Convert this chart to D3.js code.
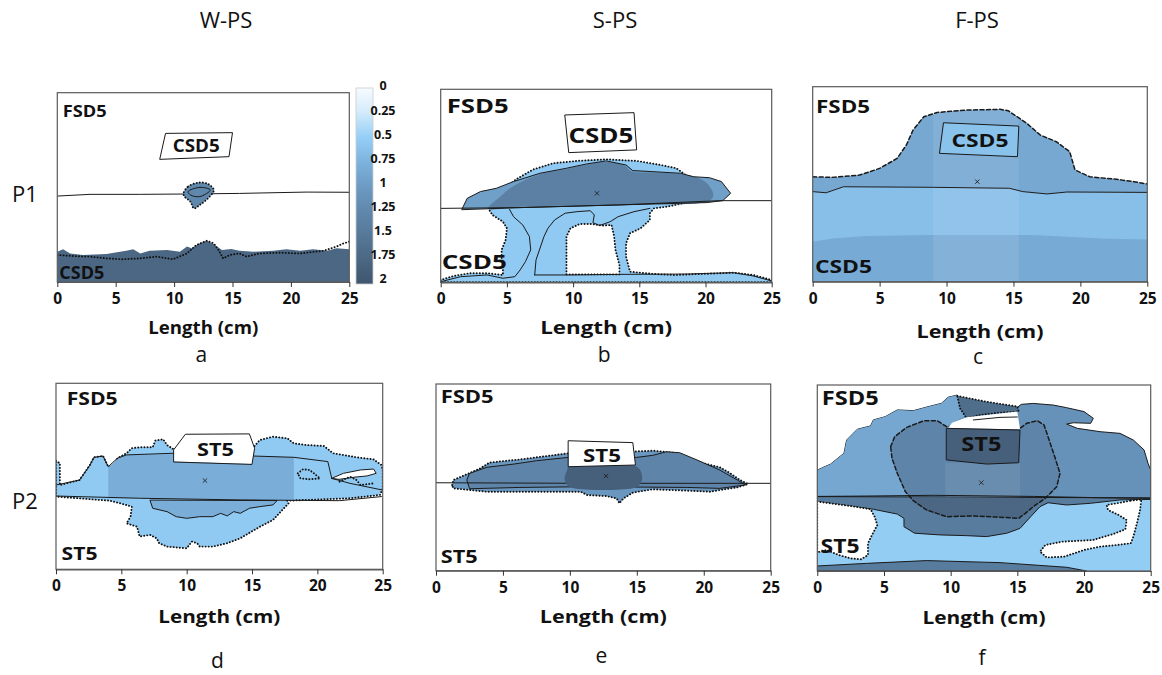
<!DOCTYPE html>
<html><head><meta charset="utf-8">
<script src="https://cdn.jsdelivr.net/npm/d3@7"></script>
<style>body{margin:0;background:#fff} text{font-family:"Open Sans",sans-serif}</style>
</head><body><svg id="c" width="1162" height="675"></svg>
<script>
// ---------------- DATA ----------------
const xTicks = [0, 5, 10, 15, 20, 25];
const cbTicks = [0, 0.25, 0.5, 0.75, 1, 1.25, 1.5, 1.75, 2];
const cbColors = ["#f7fbff","#d3ebfb","#95cff6","#7db3de","#6d9bc3","#6088ad","#567999","#4b6783","#3f566e"];
const columnTitles = ["W-PS", "S-PS", "F-PS"];
const rowLabels = ["P1", "P2"];
const panelLetters = ["a", "b", "c", "d", "e", "f"];
const xLabel = "Length (cm)";

// Panel a (W-PS, P1): x in cm, y in % of depth
const aInterface = [[0,54.6],[2.8,53.7],[7.1,53.7],[11.4,53.5],[15.6,53.2],[21.3,52.5],[25,52.6]];
const aBox = [[9.3,21.5],[15.0,21.1],[14.7,33.8],[8.8,35.2]];
const aBlob = [[10.8,53.2],[11.2,49.6],[12.1,47.5],[12.9,48.2],[13.4,51.4],[12.9,55.8],[12.2,59.3],[11.7,61.1],[11.4,57.6],[10.9,54.9]];
const aBlobCore = [[11.2,52.3],[12.2,50],[13.1,51.4],[12.2,54.9],[11.4,54]];
const aBottom = [[0,84],[0.5,82.7],[1.1,84.9],[2.2,85.7],[4.2,85.2],[5.9,83.5],[6.5,82.7],[7.1,84.9],[7.9,83.5],[9.4,83.1],[10.5,84],[11.1,81.3],[11.5,82.2],[12.2,79.5],[12.8,78.2],[13.4,80],[14.1,83.1],[14.9,82.6],[15.6,83.5],[16.8,84],[18.5,83.5],[19.6,82.7],[20.8,83.5],[21.9,82.7],[23.1,83.5],[23.9,82.2],[25,82.7],[25,100],[0,100]];
const aBottomDots = [[0,85.7],[1.4,86.3],[2.8,86.6],[4.2,87.5],[5.6,88],[7.1,87.5],[8.5,86.6],[9.9,88],[11.1,84.9],[11.9,80.5],[12.8,78.2],[13.4,79.6],[13.8,83.1],[14.2,87.5],[14.8,85.7],[15.6,84.9],[16.2,86.6],[17.3,84.9],[19.1,84.5],[20.8,84.9],[22.8,83.5],[23.9,81.3],[24.5,79.6],[25,78.7]];

// Panel b (S-PS, P1)
const bInterface = [[0,61.7],[6,61.3],[13.5,59.9],[21.1,57.7],[25,57.7]];
const bBox = [[9.4,13.3],[14.6,12.1],[14.8,31.4],[9.7,32.8]];
const bLight = [[4.7,52.2],[5.7,46.6],[7.0,41.5],[8.5,38.3],[10.5,37],[12.5,36.3],[14.8,37.1],[16.6,39.2],[17.8,40.9],[18.5,44.4],[18.3,59.1],[17.1,60.8],[16.1,61.7],[15.8,64.2],[15.8,67.7],[15.1,72],[14.3,74.6],[14.0,79.8],[14.0,86.7],[14.3,94.5],[16.1,95.7],[17.6,96.2],[21.1,95.3],[22.1,95],[23.6,96.2],[25,98.8],[25,100],[0,100],[0,98.8],[1.0,96.7],[2.2,95.3],[3.5,95.3],[4.7,96.2],[4.7,91.9],[4.6,88.4],[4.6,83.2],[4.9,78.1],[5.0,72],[4.7,68.6],[3.9,65.1],[3.6,61.7]];
const bHole = [[9.5,95.9],[9.5,76.3],[9.8,72],[10.5,69.8],[11.4,69.8],[12.2,70.6],[12.9,70.3],[13.1,76.3],[13.2,83.2],[13.5,91],[13.5,95.9]];
const bLine1 = [[5.2,62.2],[5.5,66],[6.2,70.3],[6.7,76.3],[6.8,83.2],[6.4,89.3],[6.0,93.6],[5.6,97.1],[4.7,97.9],[3.5,96.2],[1.5,97.1],[0,99.7]];
const bLine2 = [[7.1,96.2],[7.2,88.4],[7.8,76.3],[8.1,72],[8.6,67.7],[9.4,64.2],[10.3,63.4],[11.3,62.9],[11.6,65.1],[11.5,69.1],[12.0,70.6],[12.8,68.6],[13.4,66],[14.6,63.4],[15.8,61.7]];
const bLine3 = [[7.1,96.2],[9.5,96.2],[13.5,95.9],[18.6,95.7],[22.1,95],[23.6,96.7],[25,99.3]];
const bDome = [[1.6,62.2],[2.0,56.5],[3.0,53],[4.2,51.3],[5.5,47.8],[7.5,43.5],[9.5,40.9],[11.0,38.7],[12.5,37.1],[14.0,39.2],[14.5,42.1],[16.1,42.7],[18.1,43.5],[19.1,45.3],[20.3,45.8],[21.2,47.8],[21.9,53.9],[21.3,57.7],[20.1,58.7],[13.5,59.9],[6.0,61.3]];
const bDark = [[3.6,61.7],[4.5,55.6],[5.5,50.1],[7.5,44],[9.5,41.3],[11.0,39.1],[12.5,37.6],[13.9,39.6],[14.4,42.5],[16.1,43.1],[18.1,43.9],[19.3,45.6],[20.1,48.7],[20.6,54.7],[20.3,57.7],[13.5,59.6],[6.0,60.9]];

// Panel c (F-PS, P1)
const cInterface = [[0,53.8],[1.0,54.4],[2.3,51.3],[9.0,51.6],[14.7,52.1],[15.7,53.8],[17.5,55],[19,54],[25,54.2]];
const cBottom = [[0,79.5],[1.5,77.8],[4.0,76.6],[9.0,76.1],[16.5,76.1],[19,76.9],[21.5,77.8],[25,78.3],[25,100],[0,100]];
const cTop = [[0,46.2],[1.5,46.5],[3.5,45.3],[5.0,41.9],[6.3,36.8],[7.0,29.9],[7.5,22.2],[8.3,15.4],[9.3,13.2],[11.5,12],[14.0,11.6],[14.6,12.3],[16.0,18.8],[17.0,24.8],[18.2,28.2],[19.2,33.3],[19.6,42.7],[20.7,46.2],[22.7,47.5],[24.0,48.7],[25,49.9]];
const cStrip = [[9.0,13.2],[11.5,12],[14.0,11.6],[14.6,12.3],[15.4,16],[15.4,100],[9.0,100]];
const cBox = [[9.8,18.5],[15.4,20.2],[15.3,35.9],[9.5,34.2]];

// Panel d (W-PS, P2)
const dLight = [[0,41.6],[0.3,43],[0.3,54.7],[1.8,52],[2.6,43.9],[2.9,39.8],[3.6,39.1],[4.0,44.8],[4.4,44.8],[4.7,40.3],[5.4,37.6],[5.8,34.9],[6.4,34.4],[7.4,34.4],[7.6,30.8],[8.2,30.1],[8.5,33.2],[9.0,35.5],[9.5,34],[15.1,34],[15.1,34.4],[15.6,30.5],[16.6,28.7],[17.7,29.6],[18.2,32.3],[19.2,33.2],[20.5,33.7],[21.2,37.6],[23.0,39.8],[24.3,40.9],[24.9,43.9],[25,46.6],[25,56.5],[24.8,60],[22.5,61.8],[17.7,63.1],[17.8,64.5],[16.6,73.5],[15.6,77.1],[14.1,83.3],[13.1,86],[12.0,87.8],[11.0,87.8],[10.8,86],[10.4,85.1],[10.0,88.7],[8.5,87.8],[7.9,86],[7.7,83.3],[7.2,81.5],[6.4,82.4],[6.2,77.1],[5.4,75.3],[5.7,71.7],[5.8,66.3],[4.9,64.5],[4.1,63.1],[1.7,61.8],[0,60.9]];
const dMid = [[4.0,45.2],[4.7,40.9],[5.4,38.5],[9.0,38],[15.1,39.1],[18.2,39.8],[18.2,62.7],[14.1,62.7],[6.4,61.8],[4.0,61.8]];
const dMidLow = [[7.2,63.0],[7.4,67.2],[8.5,69],[9.2,71.7],[10,72.6],[11,71.7],[12,71.7],[12.6,69.9],[13.1,71.3],[13.6,69],[14.1,69.9],[14.8,67.2],[15.6,66.3],[16.6,65.4],[16.9,63.2]];
const dNotch = [[21.1,51.1],[22.0,48.4],[23.3,46.6],[24.3,46.1],[24.5,48.4],[23.8,49.8],[22.8,50.5],[21.7,51.6]];
const dIsland = [[18.5,48.4],[18.9,46.2],[19.4,46.6],[19.9,49.3],[20.2,51.1],[19.4,51.6],[18.7,51.1]];
const dDots = [[21.7,52.9],[22.5,50.2],[23.0,52],[23.3,54.7],[24.3,53.8]];
const dUpperLine = [[0,54.7],[1.8,52],[2.6,43.9],[2.9,39.8],[3.6,39.1],[4,44.8],[4.7,40.3],[5.4,38.5],[9,37.6],[15.1,39.1],[18.2,39.8],[20.8,42.1],[21.1,51.1],[22.5,53.8],[25,57.4]];
const dInterface = [[0,60.6],[6.4,61.8],[14.1,62.7],[21.7,63.1],[24.9,60.9]];
const dBox = [[9.0,42.1],[9.0,35.8],[9.9,27.4],[14.8,27.2],[15.2,34.9],[15.0,43.4]];

// Panel e (S-PS, P2)
const eInterface = [[0,52.9],[11.3,53.2],[25,53.2]];
const eOuter = [[1.2,54.1],[1.3,51.4],[2.0,49.3],[3.3,45.2],[4.0,42.1],[5.3,41.1],[6.3,40.4],[7.5,39.3],[9.9,37.1],[15.0,36.1],[16.2,35.7],[17.7,36.8],[18.7,39.3],[20.0,42.5],[21.2,44.6],[22.0,47.9],[22.7,51.4],[23.3,53.6],[22.5,55.4],[21.2,56.8],[20.5,57.7],[18.7,57.1],[16.2,56.4],[14.7,58.2],[14.0,61.3],[13.7,63.9],[13.5,61.3],[12.7,60],[11.3,59.5],[10.8,57.7],[8.8,57.7],[3.8,57.7],[1.3,55.9]];
const eInner = [[2.5,55.9],[2.3,51.4],[2.5,47.9],[3.8,44.6],[5.8,42.9],[7.5,41.1],[9.9,39.3],[15.0,39.3],[16.2,38.2],[17.2,36.3],[18.2,36.8],[19.5,40.7],[21.2,46.1],[22.5,51.4],[23.1,54.1],[21.2,55.9],[18.7,55.4],[11.3,55],[6.3,55.4]];
const eCore = [[9.8,46.1],[9.9,44.3],[15,44.3],[15.3,46.9],[15.4,50.5],[15.2,54.1],[14.7,55.9],[10.3,55.9],[9.8,54.1],[9.6,50.5]];
const eBox = [[9.9,30.4],[14.7,31.4],[14.9,43.4],[9.9,44.3]];

// Panel f (F-PS, P2)
const fLight = [[0,60.2],[25,60.9],[25,100],[0,100]];
const fUpper = [[0,60.9],[0,45.7],[1.0,42.5],[2.0,36.7],[2.2,29.6],[3.0,23.8],[4.0,22],[4.2,18.8],[5.1,17],[6.0,13.4],[7.2,13.8],[8.5,11.3],[9.3,9.9],[9.8,6.6],[10.5,5.4],[10.7,9.9],[11.3,12],[11.7,14.9],[13.7,13.4],[15,12],[15.3,10.4],[16.2,9.9],[17.7,10.8],[18.7,12.2],[20,14.3],[20.7,17.9],[20.5,20.6],[19.2,20.3],[18.7,21],[19.5,23.3],[21.2,25.1],[22.7,26],[23.7,29.6],[24.5,34.9],[24.8,42.1],[25,45.7],[25,60.9]];
const fLeft = [[0,60.2],[0,45.7],[1.0,42.5],[2.0,36.7],[2.2,29.6],[3.0,23.8],[4.0,22],[4.2,18.8],[5.1,17],[6.0,13.4],[7.2,13.8],[8.5,11.3],[9.3,9.9],[9.8,6.6],[10.5,5.4],[10.7,9.9],[11.3,12],[11.7,14.9],[10.5,18.8],[9.7,22.4],[9.0,19.2],[8.0,19.2],[6.7,22.8],[5.8,27.8],[5.5,33.2],[5.6,39.4],[6.0,47.5],[6.6,57.3],[7.0,60.2]];
const fLoop = [[5.5,33.2],[5.8,27.8],[6.7,22.8],[8.0,19.2],[9.0,19.2],[9.7,22.4],[15.2,23.3],[15.7,20.6],[16.5,19.2],[17,21.5],[17.3,27.8],[17.8,38.5],[18.2,47.5],[17.95,54.7],[17.1,60.9],[16.2,65.4],[15.6,69],[15.1,71.7],[13.7,71.1],[11.7,70.4],[9.7,70.8],[8.2,67.2],[7.2,62.2],[6.6,57.3],[6.0,47.5],[5.6,39.4]];
const fLower = [[0,60.2],[0,62.7],[2.5,65.1],[4.2,66.8],[6.0,69.4],[6.5,71.7],[6.5,76.2],[7.3,79.7],[9.2,80.6],[11.2,81],[12.7,81.5],[14.2,79.7],[15.2,77.1],[16,70.8],[16.7,65.4],[17.3,63.3],[18.7,64.5],[20.5,63.6],[22.7,61.8],[25,61.5],[25,60.9]];
const fLoopLower = [[7.0,60.2],[17.1,60.9],[16.2,65.4],[15.6,69],[15.1,71.7],[13.7,71.1],[11.7,70.4],[9.7,70.8],[8.2,67.2],[7.2,62.2]];
const fStrip = [[9.6,42],[15.2,42],[15.2,60.6],[9.6,60.2]];
const fPatch = [[10.5,5.9],[12.7,9],[15,11.6],[15.1,14.3],[13.7,14.9],[12.2,16.1],[11.2,17.9],[10.7,12.5]];
const fCrescent = [[9.8,23.3],[10.1,20.3],[11.2,17.4],[12.7,16.1],[15,14.3],[15.2,23.8]];
const fCrescentLine = [[11.7,18.8],[13.7,17.4],[15,17.2]];
const fBox = [[9.7,23.3],[15.2,24.2],[15.1,41.8],[12.7,42.5],[9.7,40.3]];
const fHoleL = [[0,62.7],[2.5,65.1],[4,66.8],[4.3,70.8],[4.5,75.3],[4.1,80.6],[3.8,85.1],[3.8,91.4],[3.3,93.7],[2.5,93.2],[1.6,91.4],[0.7,88.7],[0,90]];
const fHoleR = [[23.5,62.2],[24.3,61.5],[24.2,67.2],[24,73.5],[23.7,81.5],[23.5,85.1],[22.5,86],[21.2,86.9],[20,88.7],[18.5,92.3],[17.2,92.7],[16.7,89.6],[17.1,86],[18.4,84.2],[20.7,83.3],[22.2,80.1],[23.1,77.6],[23.2,72.6],[22.6,69.9],[21.8,67.2],[21.7,64.5],[22.7,63.3]];
const fBand = [[0,97.3],[3.7,95.9],[8.2,94.4],[13.7,95.5],[18.7,98],[20.2,100],[0,100]];
const fInterface = [[0,59.9],[3.7,59.7],[8.7,59.3],[16.2,59.9],[21.2,60.6],[25,60.9]];

// injection points (x marks)
const centers = {b:[11.8,53.9], c:[12.3,48.7], d:[11.4,52.3], e:[12.7,49.3], f:[12.3,52.5]};

// ---------------- DRAW ----------------
const svg = d3.select("#c");
const color = d3.scaleLinear().domain(cbTicks).range(cbColors);

const panels = [
 {id:"a", frame:[57.3,349.3,92.7,282], lenY:46, lenW:110, letterY:362,
  layers:[
   {pts:aBottom, v:1.75},
   {pts:aBottomDots, stroke:"dotted", open:true},
   {pts:aInterface, stroke:"solid", open:true},
   {pts:aBlob, v:1.25, stroke:"dotted", smooth:true},
   {pts:aBlobCore, stroke:"solid", smooth:true},
   {pts:aBox, white:true, stroke:"solid"}],
  texts:[{t:"FSD5",x:0.46,y:12.7,w:44,s:16},{t:"CSD5",x:11.9,y:31.2,w:47,s:17,mid:true},{t:"CSD5",x:0.17,y:98.4,w:45,s:17}]},
 {id:"b", frame:[440.7,771.7,89.3,282.3], lenY:46, lenW:132, letterY:362,
  layers:[
   {pts:bLight, v:0.55, stroke:"dotted"},
   {pts:bHole, white:true, stroke:"dotted"},
   {pts:bLine1, stroke:"solid", open:true},
   {pts:bLine2, stroke:"solid", open:true},
   {pts:bLine3, stroke:"solid", open:true},
   {pts:bDome, v:0.95},
   {pts:bDark, v:1.38, smooth:true},
   {pts:bDome, stroke:"solid"},
   {pts:bInterface, stroke:"solid", open:true},
   {pts:bBox, white:true, stroke:"solid"}],
  texts:[{t:"FSD5",x:0.45,y:12.4,w:62,s:19},{t:"CSD5",x:12.1,y:28,w:65,s:22,mid:true},{t:"CSD5",x:0.08,y:93.3,w:65,s:19}]},
 {id:"c", frame:[812.7,1147.3,86.7,281.7], lenY:50, lenW:127, letterY:364,
  layers:[
   {pts:cTop.concat(cInterface.slice().reverse()), v:0.86},
   {pts:cInterface.concat([[25,100],[0,100]]), v:0.64},
   {pts:cBottom, v:0.84},
   {pts:cStrip, overlay:0.09},
   {pts:cTop, stroke:"dashed", open:true},
   {pts:cInterface, stroke:"solid", open:true},
   {pts:cBox, v:0.62, stroke:"solid"}],
  texts:[{t:"FSD5",x:0.25,y:13.7,w:54,s:18},{t:"CSD5",x:12.5,y:31.1,w:57,s:18,mid:true},{t:"CSD5",x:0.17,y:95.4,w:57,s:18}]},
 {id:"d", frame:[56,382.7,383.3,569.3], lenY:48, lenW:122, letterY:668,
  layers:[
   {pts:dLight, v:0.55, stroke:"dotted"},
   {pts:dMid, v:0.8},
   {pts:dMidLow, v:0.8, stroke:"solid"},
   {pts:dNotch, white:true, stroke:"solid"},
   {pts:dIsland, stroke:"dotted"},
   {pts:dDots, stroke:"dotted", open:true},
   {pts:dUpperLine, stroke:"solid", open:true},
   {pts:dInterface, stroke:"solid", open:true},
   {pts:dBox, white:true, stroke:"solid"}],
  texts:[{t:"FSD5",x:0.82,y:11.6,w:51,s:18},{t:"ST5",x:12.2,y:39.1,w:37,s:18,mid:true},{t:"ST5",x:0.43,y:95,w:36,s:18}]},
 {id:"e", frame:[436,770.7,384,570.7], lenY:46, lenW:127, letterY:663,
  layers:[
   {pts:eOuter, v:1.05, stroke:"dotted"},
   {pts:eInner, v:1.3, stroke:"solid"},
   {pts:eInterface, stroke:"solid", open:true},
   {pts:eCore, v:1.85, smooth:true},
   {pts:eBox, white:true, stroke:"solid"}],
  texts:[{t:"FSD5",x:0.35,y:10.4,w:53,s:18},{t:"ST5",x:12.4,y:41.6,w:38,s:18,mid:true},{t:"ST5",x:0.35,y:96,w:37,s:18}]},
 {id:"f", frame:[817.3,1150.7,385,571], lenY:47, lenW:123, letterY:665,
  layers:[
   {pts:fLight, v:0.52},
   {pts:fUpper, v:1.13, stroke:"solid"},
   {pts:fLeft, v:0.88},
   {pts:fLoop, v:1.3},
   {pts:fLower, v:1.45, stroke:"solid"},
   {pts:fLoopLower, v:1.75},
   {pts:fStrip, overlay:0.07},
   {pts:fLoop, stroke:"dashed"},
   {pts:fPatch, v:1.65, stroke:"dotted"},
   {pts:fCrescent, white:true},
   {pts:fCrescentLine, stroke:"solid", open:true},
   {pts:fBox, v:1.85, stroke:"solid"},
   {pts:fHoleL, white:true, stroke:"dotted"},
   {pts:fHoleR, white:true, stroke:"dotted"},
   {pts:fBand, v:1.45, stroke:"solid"},
   {pts:fInterface, stroke:"solid", open:true}],
  texts:[{t:"FSD5",x:0.33,y:10.8,w:57,s:19},{t:"ST5",x:12.3,y:35.5,w:40,s:19,mid:true},{t:"ST5",x:0.25,y:90.1,w:39,s:19}]}
];

const strokeStyles = {
  solid:{w:1, dash:null, col:"#1a1a1a"},
  dotted:{w:1.9, dash:"0.1,3", col:"#111"},
  dashed:{w:1.5, dash:"4,2.5", col:"#1a1a1a"}
};

const defs = svg.append("defs");

panels.forEach((P, i) => {
  const [L, R, T, B] = P.frame;
  const x = d3.scaleLinear().domain([0, 25]).range([L, R]);
  const y = d3.scaleLinear().domain([0, 100]).range([T, B]);
  defs.append("clipPath").attr("id", "clip" + P.id)
    .append("rect").attr("x", L).attr("y", T).attr("width", R - L).attr("height", B - T);
  const g = svg.append("g");
  const plot = g.append("g").attr("clip-path", `url(#clip${P.id})`);
  P.layers.forEach(ly => {
    const line = d3.line().x(d => x(d[0])).y(d => y(d[1]))
      .curve(ly.open ? (ly.smooth ? d3.curveCatmullRom : d3.curveLinear)
                     : (ly.smooth ? d3.curveCatmullRomClosed : d3.curveLinearClosed));
    const p = plot.append("path").attr("d", line(ly.pts));
    if (ly.overlay) p.attr("fill", "#fff").attr("fill-opacity", ly.overlay);
    else if (ly.white) p.attr("fill", "#fff");
    else if (ly.v !== undefined) p.attr("fill", color(ly.v));
    else p.attr("fill", "none");
    if (ly.stroke) {
      const s = strokeStyles[ly.stroke];
      p.attr("stroke", s.col).attr("stroke-width", s.w).attr("stroke-linecap", "round")
       .attr("stroke-linejoin", "round");
      if (s.dash) p.attr("stroke-dasharray", s.dash);
    }
  });
  if (centers[P.id]) {
    const c = centers[P.id];
    g.append("path").attr("d", d3.symbol().type(d3.symbolX).size(14)())
      .attr("transform", `translate(${x(c[0])},${y(c[1])})`)
      .attr("fill", "none").attr("stroke", "#222").attr("stroke-width", 0.9);
  }
  g.append("rect").attr("x", L).attr("y", T).attr("width", R - L).attr("height", B - T)
    .attr("fill", "none").attr("stroke", "#5a5a5a").attr("stroke-width", 1.2);
  P.texts.forEach(tx => {
    g.append("text").attr("x", x(tx.x)).attr("y", y(tx.y))
      .attr("text-anchor", tx.mid ? "middle" : "start")
      .attr("font-size", tx.s).attr("font-weight", 700).attr("fill", "#111")
      .attr("textLength", tx.w).attr("lengthAdjust", "spacingAndGlyphs").text(tx.t);
  });
  const ax = g.append("g").attr("transform", `translate(0,${B})`)
    .call(d3.axisBottom(x).tickValues(xTicks).tickSize(5).tickSizeOuter(0).tickPadding(6));
  ax.select(".domain").attr("stroke", "#5a5a5a").attr("stroke-width", 1.2);
  ax.selectAll(".tick line").attr("stroke", "#333");
  ax.selectAll(".tick text").attr("font-family", "Open Sans").attr("font-weight", 700)
    .attr("font-size", 15.5).attr("fill", "#111");
  g.append("text").attr("x", (L + R) / 2).attr("y", B + P.lenY + 6)
    .attr("text-anchor", "middle").attr("font-size", 18).attr("font-weight", 700).attr("fill", "#111")
    .attr("textLength", P.lenW).attr("lengthAdjust", "spacingAndGlyphs").text(xLabel);
  g.append("text").attr("x", (L + R) / 2 - 2).attr("y", P.letterY)
    .attr("text-anchor", "middle").attr("font-size", 21).attr("fill", "#111")
    .attr("font-family", "Open Sans").text(panelLetters[i]);
});

const titleX = [226, 615, 977];
columnTitles.forEach((t, i) => svg.append("text").attr("x", titleX[i]).attr("y", 28)
  .attr("text-anchor", "middle").attr("font-size", 22).attr("fill", "#111").text(t));
const rowY = [202, 509];
rowLabels.forEach((t, i) => svg.append("text").attr("x", 25).attr("y", rowY[i])
  .attr("text-anchor", "middle").attr("font-size", 22).attr("fill", "#111").text(t));

const grad = defs.append("linearGradient").attr("id", "cbGrad").attr("x1", 0).attr("x2", 0).attr("y1", 0).attr("y2", 1);
cbTicks.forEach((v, i) => grad.append("stop").attr("offset", v / 2).attr("stop-color", cbColors[i]));
svg.append("rect").attr("x", 356).attr("y", 88).attr("width", 17).attr("height", 196)
  .attr("fill", "url(#cbGrad)").attr("stroke", "#ccc").attr("stroke-width", 0.8);
const cbY = d3.scaleLinear().domain([0, 2]).range([86, 279]);
cbTicks.forEach(v => svg.append("text").attr("x", 383).attr("y", cbY(v)).attr("dy", "0.35em")
  .attr("text-anchor", "middle").attr("font-size", 12.5).attr("font-weight", 700).attr("fill", "#111")
  .text(String(v)));
</script></body></html>
